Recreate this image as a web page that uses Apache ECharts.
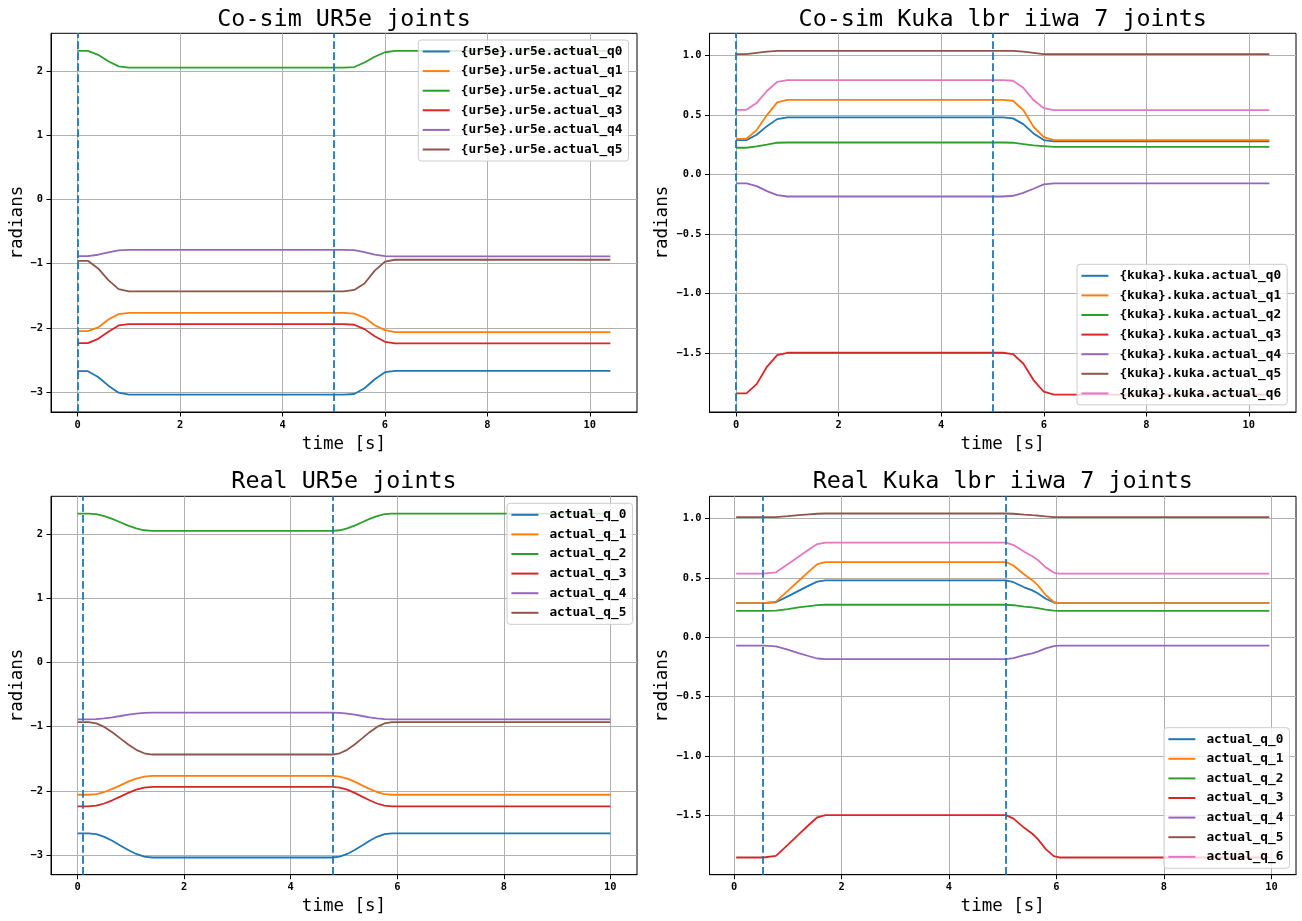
<!DOCTYPE html>
<html><head><meta charset="utf-8">
<script src="https://cdn.jsdelivr.net/npm/echarts@6.0.0/dist/echarts.min.js"></script>
<style>html,body{margin:0;padding:0;background:#fff}#c{width:1302px;height:921px}</style>
</head><body><div id="c"></div>
<script>
// ---------- data ----------
const COLORS = ['#1f77b4','#ff7f0e','#2ca02c','#d62728','#9467bd','#8c564b','#e377c2'];
const X_TICKS = [0, 2, 4, 6, 8, 10];
const Y_TICKS_UR = [-3, -2, -1, 0, 1, 2];
const Y_TICKS_KUKA = [-1.5, -1.0, -0.5, 0.0, 0.5, 1.0];

// Co-sim UR5e
const T_COSIM = [0, 0.2, 0.4, 0.6, 0.8, 1.0, 5.2, 5.4, 5.6, 5.8, 6.0, 6.2, 10.4];
const COSIM_UR_NAMES = ['{ur5e}.ur5e.actual_q0','{ur5e}.ur5e.actual_q1','{ur5e}.ur5e.actual_q2','{ur5e}.ur5e.actual_q3','{ur5e}.ur5e.actual_q4','{ur5e}.ur5e.actual_q5'];
const cosimUr_q0 = [-2.675,-2.675,-2.765,-2.90,-3.01,-3.04,-3.04,-3.03,-2.94,-2.80,-2.69,-2.67,-2.67];
const cosimUr_q1 = [-2.052,-2.052,-1.994,-1.869,-1.787,-1.766,-1.766,-1.78,-1.84,-1.96,-2.035,-2.066,-2.066];
const cosimUr_q2 = [2.31,2.31,2.25,2.15,2.07,2.05,2.05,2.06,2.13,2.22,2.29,2.31,2.31];
const cosimUr_q3 = [-2.238,-2.238,-2.171,-2.062,-1.963,-1.942,-1.942,-1.952,-2.02,-2.13,-2.217,-2.243,-2.243];
const cosimUr_q4 = [-0.884,-0.884,-0.862,-0.826,-0.795,-0.785,-0.785,-0.79,-0.82,-0.86,-0.883,-0.888,-0.888];
const cosimUr_q5 = [-0.956,-0.956,-1.075,-1.257,-1.397,-1.433,-1.433,-1.41,-1.31,-1.11,-0.97,-0.94,-0.94];
const COSIM_UR_MARKS = [0, 5.0];

// Co-sim Kuka
const COSIM_KUKA_NAMES = ['{kuka}.kuka.actual_q0','{kuka}.kuka.actual_q1','{kuka}.kuka.actual_q2','{kuka}.kuka.actual_q3','{kuka}.kuka.actual_q4','{kuka}.kuka.actual_q5','{kuka}.kuka.actual_q6'];
const cosimKuka_q0 = [0.288,0.288,0.333,0.405,0.464,0.478,0.478,0.47,0.422,0.344,0.288,0.277,0.277];
const cosimKuka_q1 = [0.299,0.299,0.372,0.498,0.604,0.626,0.626,0.618,0.54,0.40,0.313,0.288,0.288];
const cosimKuka_q2 = [0.224,0.224,0.235,0.25,0.266,0.268,0.268,0.266,0.255,0.243,0.238,0.232,0.232];
const cosimKuka_q3 = [-1.837,-1.837,-1.759,-1.614,-1.516,-1.496,-1.496,-1.507,-1.586,-1.725,-1.823,-1.848,-1.848];
const cosimKuka_q4 = [-0.075,-0.075,-0.098,-0.14,-0.173,-0.185,-0.185,-0.179,-0.154,-0.12,-0.084,-0.075,-0.075];
const cosimKuka_q5 = [1.009,1.009,1.02,1.03,1.037,1.037,1.037,1.037,1.03,1.02,1.01,1.009,1.009];
const cosimKuka_q6 = [0.542,0.542,0.60,0.70,0.777,0.791,0.791,0.786,0.727,0.624,0.556,0.54,0.54];
const COSIM_KUKA_MARKS = [0, 5.0];

// Real UR5e
const T_REAL_UR = [0, 0.2, 0.35, 0.5, 0.65, 0.8, 0.95, 1.1, 1.25, 1.4, 4.78, 4.92, 5.06, 5.2, 5.34, 5.48, 5.62, 5.76, 5.9, 10];
const REAL_NAMES_UR = ['actual_q_0','actual_q_1','actual_q_2','actual_q_3','actual_q_4','actual_q_5'];
const realUr_q0 = [-2.66,-2.66,-2.674,-2.715,-2.776,-2.849,-2.921,-2.982,-3.023,-3.037,-3.037,-3.023,-2.982,-2.921,-2.849,-2.776,-2.715,-2.674,-2.66,-2.66];
const realUr_q1 = [-2.06,-2.06,-2.049,-2.017,-1.969,-1.913,-1.856,-1.808,-1.776,-1.765,-1.765,-1.776,-1.808,-1.856,-1.913,-1.969,-2.017,-2.049,-2.06,-2.06];
const realUr_q2 = [2.32,2.32,2.31,2.281,2.237,2.185,2.133,2.089,2.06,2.05,2.05,2.06,2.089,2.133,2.185,2.237,2.281,2.31,2.32,2.32];
const realUr_q3 = [-2.24,-2.24,-2.228,-2.196,-2.146,-2.089,-2.031,-1.981,-1.949,-1.937,-1.937,-1.949,-1.981,-2.031,-2.089,-2.146,-2.196,-2.228,-2.24,-2.24];
const realUr_q4 = [-0.886,-0.886,-0.882,-0.87,-0.853,-0.833,-0.812,-0.795,-0.783,-0.779,-0.779,-0.783,-0.795,-0.812,-0.833,-0.853,-0.87,-0.882,-0.886,-0.886];
const realUr_q5 = [-0.93,-0.93,-0.949,-1.003,-1.085,-1.182,-1.278,-1.36,-1.414,-1.433,-1.433,-1.414,-1.36,-1.278,-1.182,-1.085,-1.003,-0.949,-0.93,-0.93];
const REAL_UR_MARKS = [0.10, 4.79];

// Real Kuka
const T_REAL_KUKA = [0.04, 0.55, 0.78, 1.0, 1.2, 1.4, 1.55, 1.7, 5.06, 5.2, 5.4, 5.55, 5.65, 5.8, 5.95, 6.05, 9.96];
const REAL_NAMES_KUKA = ['actual_q_0','actual_q_1','actual_q_2','actual_q_3','actual_q_4','actual_q_5','actual_q_6'];
const realKuka_q0 = [0.286,0.286,0.294,0.344,0.390,0.436,0.468,0.478,0.478,0.463,0.420,0.394,0.370,0.324,0.292,0.286,0.286];
const realKuka_q1 = [0.286,0.286,0.300,0.390,0.473,0.556,0.615,0.632,0.632,0.604,0.528,0.480,0.438,0.355,0.296,0.286,0.286];
const realKuka_q2 = [0.222,0.222,0.224,0.237,0.250,0.262,0.270,0.273,0.273,0.269,0.258,0.251,0.244,0.232,0.224,0.222,0.222];
const realKuka_q3 = [-1.857,-1.857,-1.843,-1.750,-1.664,-1.579,-1.518,-1.500,-1.500,-1.529,-1.607,-1.657,-1.700,-1.786,-1.846,-1.857,-1.857];
const realKuka_q4 = [-0.072,-0.072,-0.077,-0.106,-0.134,-0.161,-0.180,-0.186,-0.186,-0.177,-0.152,-0.136,-0.122,-0.095,-0.075,-0.072,-0.072];
const realKuka_q5 = [1.011,1.011,1.012,1.020,1.028,1.035,1.040,1.042,1.042,1.040,1.033,1.028,1.025,1.017,1.012,1.011,1.011];
const realKuka_q6 = [0.536,0.536,0.546,0.614,0.677,0.740,0.784,0.797,0.797,0.776,0.719,0.682,0.651,0.588,0.544,0.536,0.536];
const REAL_KUKA_MARKS = [0.54, 5.055];

// ---------- layout / styling ----------
const MONO = "'DejaVu Sans Mono', monospace";
const panels = [
  {title:'Co-sim UR5e joints', grid:{left:51, top:33.3, width:586, height:378.7}, titleTop:8.5,
   x:[-0.52,10.92], y:[-3.31,2.585], yTicks:Y_TICKS_UR, dec:0, nameGap:24,
   t:T_COSIM, names:COSIM_UR_NAMES, vals:[cosimUr_q0,cosimUr_q1,cosimUr_q2,cosimUr_q3,cosimUr_q4,cosimUr_q5],
   marks:COSIM_UR_MARKS, legend:{left:418.3, top:40}},
  {title:'Co-sim Kuka lbr iiwa 7 joints', grid:{left:709.5, top:33.3, width:586.5, height:378.7}, titleTop:8.5,
   x:[-0.52,10.92], y:[-1.993,1.184], yTicks:Y_TICKS_KUKA, dec:1, nameGap:38,
   t:T_COSIM, names:COSIM_KUKA_NAMES, vals:[cosimKuka_q0,cosimKuka_q1,cosimKuka_q2,cosimKuka_q3,cosimKuka_q4,cosimKuka_q5,cosimKuka_q6],
   marks:COSIM_KUKA_MARKS, legend:{left:1077, top:264.3}},
  {title:'Real UR5e joints', grid:{left:51, top:496.3, width:586, height:378.4}, titleTop:470.5,
   x:[-0.5,10.5], y:[-3.305,2.589], yTicks:Y_TICKS_UR, dec:0, nameGap:24,
   t:T_REAL_UR, names:REAL_NAMES_UR, vals:[realUr_q0,realUr_q1,realUr_q2,realUr_q3,realUr_q4,realUr_q5],
   marks:REAL_UR_MARKS, legend:{left:507, top:503.3}},
  {title:'Real Kuka lbr iiwa 7 joints', grid:{left:709.5, top:496.3, width:586.5, height:378.4}, titleTop:470.5,
   x:[-0.456,10.456], y:[-2.002,1.187], yTicks:Y_TICKS_KUKA, dec:1, nameGap:38,
   t:T_REAL_KUKA, names:REAL_NAMES_KUKA, vals:[realKuka_q0,realKuka_q1,realKuka_q2,realKuka_q3,realKuka_q4,realKuka_q5,realKuka_q6],
   marks:REAL_KUKA_MARKS, legend:{left:1164, top:727.7}}
];

function fmt(dec){
  return function(v){ let s = dec ? Number(v).toFixed(dec) : String(Math.round(v)); if (s === '-0' || s === '-0.0') s = s.slice(1); return s.replace('-', '\u2212'); };
}

const option = {animation:false, backgroundColor:'#fff', title:[], grid:[], xAxis:[], yAxis:[], legend:[], series:[]};
panels.forEach((p, i) => {
  option.title.push({text:p.title, left:p.grid.left + p.grid.width/2, top:p.titleTop, textAlign:'center', padding:0,
    textStyle:{fontFamily:MONO, fontSize:23.4, fontWeight:'normal', color:'#000'}});
  option.grid.push(Object.assign({show:true, borderColor:'#000', borderWidth:1, backgroundColor:'rgba(0,0,0,0)', containLabel:false}, p.grid));
  const tickStyle = {show:true, length:4.5, inside:false, lineStyle:{color:'#000', width:1}};
  const labelStyle = {fontFamily:MONO, fontSize:10.4, fontWeight:'bold', color:'#000'};
  option.xAxis.push({type:'value', gridIndex:i, min:p.x[0], max:p.x[1],
    axisLine:{show:true, onZero:false, lineStyle:{color:'#000', width:1}},
    axisTick:Object.assign({customValues:X_TICKS}, tickStyle),
    axisLabel:Object.assign({customValues:X_TICKS, margin:8, formatter:fmt(0)}, labelStyle),
    splitLine:{show:true, lineStyle:{color:'#b0b0b0', width:1}},
    name:'time [s]', nameLocation:'middle', nameGap:23, nameTextStyle:{fontFamily:MONO, fontSize:17.5, color:'#000'}});
  option.yAxis.push({type:'value', gridIndex:i, min:p.y[0], max:p.y[1],
    axisLine:{show:true, onZero:false, lineStyle:{color:'#000', width:1}},
    axisTick:Object.assign({customValues:p.yTicks}, tickStyle),
    axisLabel:Object.assign({customValues:p.yTicks, margin:8, formatter:fmt(p.dec)}, labelStyle),
    splitLine:{show:true, lineStyle:{color:'#b0b0b0', width:1}},
    name:'radians', nameLocation:'middle', nameGap:p.nameGap, nameTextStyle:{fontFamily:MONO, fontSize:17.5, color:'#000'}});
  option.legend.push({orient:'vertical', left:p.legend.left, top:p.legend.top, selectedMode:false,
    data:p.names.map((n, k) => ({name:n, icon:'rect', itemStyle:{color:COLORS[k]}})),
    itemWidth:27, itemHeight:2, itemGap:3.6, padding:[3.5,6,3.5,4.4],
    backgroundColor:'rgba(255,255,255,0.8)', borderColor:'#cccccc', borderWidth:1, borderRadius:3,
    textStyle:{fontFamily:MONO, fontWeight:'bold', fontSize:12.8, color:'#000', lineHeight:16, padding:[0,0,0,6]}});
  p.vals.forEach((arr, k) => {
    const s = {type:'line', name:p.names[k], xAxisIndex:i, yAxisIndex:i, symbol:'none', showSymbol:false,
      data:p.t.map((tt, j) => [tt, arr[j]]), color:COLORS[k],
      lineStyle:{color:COLORS[k], width:1.8}, emphasis:{disabled:true}, silent:true};
    if (k === p.vals.length - 1) {
      s.markLine = {silent:true, symbol:['none','none'], label:{show:false}, animation:false,
        lineStyle:{color:'#1f77b4', width:1.8, type:[7.7,3.3]}, emphasis:{disabled:true},
        data:p.marks.map(m => ({xAxis:m}))};
    }
    option.series.push(s);
  });
});

const chart = echarts.init(document.getElementById('c'), null, {renderer:'canvas'});
chart.setOption(option);
</script></body></html>
